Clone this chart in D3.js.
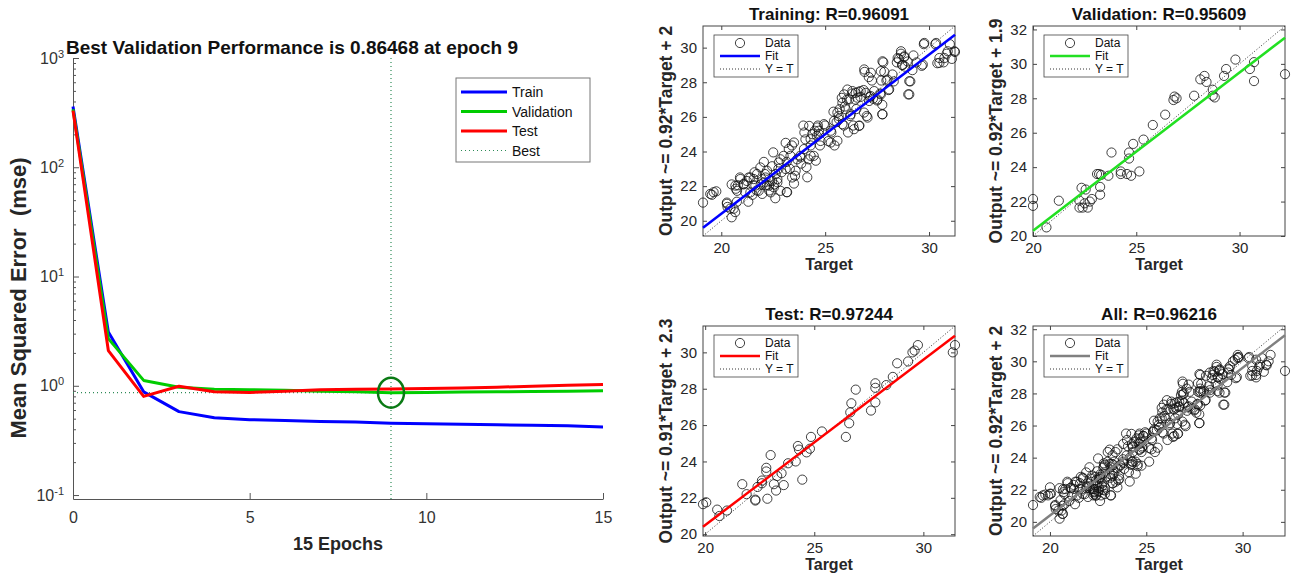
<!DOCTYPE html>
<html>
<head>
<meta charset="utf-8">
<script src="https://cdn.jsdelivr.net/npm/d3@7"></script>
<style>
  body { margin: 0; background: #fff; }
  svg { font-family: "Liberation Sans", Arial, Helvetica, sans-serif; }
</style>
</head>
<body>
<div id="chart"></div>
<script>
// ---- performance curve data ----
var epochs    = [0, 1, 2, 3, 4, 5, 6, 7, 8, 9, 10, 11, 12, 13, 14, 15];
var trainPerf = [360, 3.1, 0.88, 0.58, 0.51, 0.49, 0.48, 0.47, 0.465, 0.455, 0.45, 0.445, 0.44, 0.435, 0.43, 0.42];
var valPerf   = [340, 2.7, 1.12, 0.97, 0.93, 0.92, 0.91, 0.89, 0.88, 0.86468, 0.87, 0.875, 0.88, 0.885, 0.89, 0.9];
var testPerf  = [330, 2.1, 0.80, 0.99, 0.88, 0.87, 0.89, 0.92, 0.93, 0.935, 0.945, 0.955, 0.97, 0.99, 1.01, 1.03];
var bestEpoch = 9;
var bestPerf = 0.86468;
var perfExponents = [-1, 0, 1, 2, 3];
var perfXTicks = [0, 5, 10, 15];
var perfNames = ["Train", "Validation", "Test", "Best"];

// ---- regression data: [target, output] ----
var trainPts = [
  [19.12,21.05],[19.55,21.5],[19.76,21.7],[20.27,21.05],[20.43,20.7],[20.5,20.2],[20.67,20.5],[20.3,20.8],[20.75,21.1],
  [20.5,22.1],[20.7,21.85],[20.8,22.05],[20.9,22.5],[21.15,21.65],[21.07,22.1],[21.23,22.3],[21.3,21.1],[21.4,22.5],
  [21.55,22.05],[21.6,22.8],[21.5,21.5],[21.7,21.75],[21.9,22.1],[21.95,22.4],[22.05,23.4],[22.1,22.7],[22.2,22.05],
  [22.3,21.75],[22.35,22.3],[22.45,23.15],[22.5,23.95],[22.55,22.1],[22.6,21.3],[22.7,22.4],[22.75,23.0],[22.85,23.55],
  [22.9,22.8],[23.0,23.75],[23.1,24.5],[23.15,23.4],[23.25,24.15],[23.15,21.65],[23.3,23.0],[23.4,24.35],[23.5,22.15],
  [23.55,22.6],[23.65,23.55],[23.8,23.75],[23.85,23.3],[23.95,25.5],[24.0,25.1],[24.05,24.7],[24.1,23.1],[24.2,23.55],
  [24.3,24.35],[24.45,23.75],[24.5,25.2],[24.6,24.9],[24.65,25.5],[24.75,24.35],[25.0,25.5],[25.15,24.6],[25.3,25.1],
  [25.4,26.3],[25.45,24.35],[25.55,25.7],[25.65,26.05],[25.7,26.45],[25.8,27.1],[25.9,25.5],[25.95,26.6],[26.05,27.0],
  [26.1,25.1],[26.2,26.05],[26.3,27.35],[26.35,25.5],[26.45,27.0],[26.5,26.45],[26.6,27.45],[26.65,25.5],[26.7,27.15],
  [26.85,27.55],[26.9,28.6],[27.0,26.05],[27.1,28.3],[27.15,27.15],[27.25,28.1],[27.3,27.05],[27.5,26.95],[27.65,27.35],
  [27.7,28.1],[27.8,29.15],[27.85,28.6],[27.75,26.15],[27.75,26.7],[27.95,28.1],[28.05,27.55],[28.3,28.05],[28.45,29.15],
  [28.55,29.35],[28.65,29.65],[28.7,29.0],[28.8,29.45],[28.85,28.9],[29.0,27.3],[29.1,28.05],[29.2,28.7],[29.25,29.55],
  [29.4,29.15],[29.65,28.95],[29.75,30.2],[30.3,30.2],[30.4,29.1],[30.5,29.4],[30.7,29.15],[30.85,29.65],[31.0,30.2],
  [31.1,29.35],[31.25,29.75],
  [19.63,21.65],[19.47,21.55],[20.27,20.98],[20.6,20.7],[20.68,22.03],[20.76,21.73],[21.08,22.13],[20.92,22.41],
  [21.32,22.5],[21.4,21.64],[21.56,22.41],[21.64,22.03],[21.72,22.7],[21.8,21.73],[21.88,23.08],[21.97,21.55],
  [22.05,22.22],[22.13,22.5],[22.2,22.89],[22.3,22.03],[22.38,21.64],[22.45,22.3],[22.53,21.93],[22.62,22.7],
  [22.7,22.22],[22.77,23.37],[22.85,21.73],[23.1,22.99],[23.17,21.65],[23.33,23.75],[23.41,22.5],[23.5,24.52],
  [23.58,22.89],[23.82,23.66],[23.98,24.14],[24.14,22.51],[24.3,23.75],[24.55,23.47],[24.78,24.61],[24.7,25.2],
  [24.23,25.48],
  [29.77,30.27],[30.34,30.27],[30.9,29.79],[31.22,29.79],[30.5,29.12],[30.74,29.4],[28.65,29.79],[28.81,29.5],
  [28.49,29.4],[28.97,29.2],[28.73,29.0],[27.76,29.21],[27.68,28.64],[27.2,28.55],[26.88,28.74],[28.0,28.16],
  [28.24,28.45],[29.05,28.06],[29.7,29.02],[29.05,27.3],[28.08,27.59],[27.68,27.3],[27.76,26.15],[27.52,27.01],
  [27.2,27.2],[26.96,27.39],[26.71,27.49],[26.47,27.39],[26.31,27.49],[26.07,27.58],[25.91,27.3],[26.15,27.01],
  [25.83,26.82],[26.55,27.11],[27.36,27.49],[27.12,26.92],[26.87,26.25],[26.23,26.15],[25.99,26.44],[25.59,26.25],
  [25.67,25.86],[25.43,25.77],[25.83,25.58],[26.39,25.29],[26.63,25.48],[27.04,25.96],[25.27,25.2],[24.94,25.58],
  [24.7,25.0],[24.38,25.0],[25.27,24.52],[25.59,24.62],[24.3,24.71],[24.62,25.39]
];
var valPts = [
  [20.0,22.15],[20.0,21.75],[20.65,20.5],[21.25,22.05],[22.25,22.05],[22.35,22.8],[22.25,21.65],[22.4,21.65],
  [22.5,21.9],[22.55,22.7],[22.65,21.65],[22.75,22.0],[22.85,22.15],[23.1,23.6],[23.2,23.6],[23.25,22.4],
  [23.25,22.85],[23.3,23.55],[23.65,23.5],[23.8,24.85],[24.25,23.75],[24.25,23.6],[24.55,23.6],[24.65,24.5],
  [24.65,24.85],[24.75,23.5],[24.85,25.35],[25.15,23.75],[25.35,25.6],[25.8,26.45],[26.4,27.05],[26.8,27.9],
  [26.85,28.1],[26.95,28.0],[27.8,28.15],[28.1,29.1],[28.3,29.3],[28.4,28.95],[28.7,28.5],[28.7,28.15],
  [28.8,28.05],[29.25,29.3],[29.35,29.7],[29.8,30.25],[30.5,29.7],[30.7,30.1],[30.7,29.0],[32.2,29.4]
];
var testPts = [
  [19.9,21.65],[20.05,21.75],[20.55,21.35],[20.65,21.0],[21.0,21.3],[21.7,22.75],[21.9,22.2],[22.3,21.9],
  [22.3,21.85],[22.4,22.6],[22.6,22.95],[22.6,22.8],[22.8,23.65],[22.8,23.45],[22.85,21.95],[23.0,24.35],
  [23.15,22.75],[23.25,22.4],[23.3,23.2],[23.5,23.35],[23.6,22.7],[23.8,23.9],[24.15,24.0],[24.25,24.85],
  [24.3,24.65],[24.45,23.0],[24.65,24.5],[24.8,24.7],[24.85,25.35],[25.35,25.65],[26.45,25.35],[26.6,26.1],
  [26.65,26.7],[26.7,27.2],[26.9,27.95],[27.6,26.8],[27.8,27.25],[27.8,28.05],[27.8,28.3],[28.3,28.2],
  [28.6,28.65],[28.8,29.4],[29.3,29.5],[29.5,30.0],[29.6,30.1],[29.75,30.4],[31.35,30.0],[31.45,30.4]
];
var regTitles = ["Training", "Validation", "Test", "All"];
var regR = ["0.96091", "0.95609", "0.97244", "0.96216"];
var regSlope = [0.92, 0.92, 0.91, 0.92];
var regIntercept = [2, 1.9, 2.3, 2];
var regYTicks = [20, 22, 24, 26, 28, 30, 32];
var regXTicks = [20, 25, 30];
var regLegend = ["Data", "Fit", "Y = T"];

var W = 1295, H = 576;
var textColor = "#262626";
var axisColor = "#555";

var svg = d3.select("#chart").append("svg")
    .attr("width", W)
    .attr("height", H);

// ================= performance plot =================
var perfColors = ["#0000ff", "#00cc00", "#ff0000"];
var perfBestColor = "#2e8b57";
var pLeft = 73, pTop = 58, pWidth = 530, pBottom = 499;

var x = d3.scaleLinear().domain([0, 15]).range([pLeft, pLeft + pWidth]);
var y = d3.scaleLog().domain([0.092, 1000]).range([pBottom, pTop]);

var minorTicks = [];
perfExponents.forEach(function(e) {
  [2, 3, 4, 5, 6, 7, 8, 9].forEach(function(m) {
    var v = m * Math.pow(10, e);
    if (v < 1000) minorTicks.push(v);
  });
});

svg.append("g")
    .attr("transform", "translate(" + pLeft + ",0)")
    .call(d3.axisLeft(y).tickValues(minorTicks).tickSize(-3).tickFormat(""))
    .call(function(g) { g.select(".domain").remove(); g.selectAll("line").attr("stroke", axisColor); });

var yAxisG = svg.append("g")
    .attr("transform", "translate(" + pLeft + ",0)")
    .call(d3.axisLeft(y)
      .tickValues(perfExponents.map(function(e) { return Math.pow(10, e); }))
      .tickSizeInner(-6).tickSizeOuter(0).tickPadding(9));
yAxisG.attr("font-family", null).attr("font-size", 16);
yAxisG.select(".domain").attr("stroke", axisColor);
yAxisG.selectAll("line").attr("stroke", axisColor);
yAxisG.selectAll("text")
    .attr("fill", "#333")
    .each(function(d) {
      var t = d3.select(this);
      t.text("10");
      t.append("tspan")
        .attr("dy", "-0.55em")
        .attr("font-size", 11)
        .text(Math.round(Math.log10(d)));
    });

var xAxisG = svg.append("g")
    .attr("transform", "translate(0," + pBottom + ")")
    .call(d3.axisBottom(x).tickValues(perfXTicks).tickSizeInner(-6).tickSizeOuter(0).tickPadding(13));
xAxisG.attr("font-family", null).attr("font-size", 16);
xAxisG.select(".domain").attr("stroke", axisColor);
xAxisG.selectAll("line").attr("stroke", axisColor);
xAxisG.selectAll("text").attr("fill", "#333");

// best markers
svg.append("line")
    .attr("x1", x(bestEpoch)).attr("x2", x(bestEpoch))
    .attr("y1", pTop).attr("y2", pBottom)
    .attr("stroke", perfBestColor).attr("stroke-width", 1.2)
    .attr("stroke-dasharray", "1,3");
svg.append("line")
    .attr("x1", x(0)).attr("x2", x(bestEpoch))
    .attr("y1", y(bestPerf)).attr("y2", y(bestPerf))
    .attr("stroke", perfBestColor).attr("stroke-width", 1.2)
    .attr("stroke-dasharray", "1,3");

var perfLine = d3.line()
    .x(function(d, i) { return x(epochs[i]); })
    .y(function(d) { return y(d); });

[trainPerf, valPerf, testPerf].forEach(function(series, i) {
  svg.append("path")
      .datum(series)
      .attr("d", perfLine)
      .attr("fill", "none")
      .attr("stroke", perfColors[i])
      .attr("stroke-width", 3)
      .attr("stroke-linejoin", "round");
});

svg.append("ellipse")
    .attr("cx", x(bestEpoch)).attr("cy", y(bestPerf))
    .attr("rx", 13).attr("ry", 15)
    .attr("fill", "none")
    .attr("stroke", "#0a7a14")
    .attr("stroke-width", 2.5);

// title and labels
svg.append("text")
    .attr("x", 292).attr("y", 54)
    .attr("text-anchor", "middle")
    .attr("font-size", 19).attr("font-weight", "bold")
    .attr("fill", "#111")
    .text("Best Validation Performance is " + bestPerf + " at epoch " + bestEpoch);

svg.append("text")
    .attr("transform", "translate(26,298) rotate(-90)")
    .attr("text-anchor", "middle")
    .attr("font-size", 22).attr("font-weight", "bold")
    .attr("fill", textColor)
    .attr("xml:space", "preserve")
    .text("Mean Squared Error  (mse)");

svg.append("text")
    .attr("x", x(7.5)).attr("y", 550)
    .attr("text-anchor", "middle")
    .attr("font-size", 18).attr("font-weight", "bold")
    .attr("fill", textColor)
    .text((epochs.length - 1) + " Epochs");

// legend
var leg = svg.append("g").attr("transform", "translate(456,78)");
leg.append("rect")
    .attr("width", 134).attr("height", 84)
    .attr("fill", "#fff").attr("stroke", "#777").attr("stroke-width", 1);
perfNames.forEach(function(name, i) {
  var ly = 14 + i * 19.5;
  leg.append("line")
      .attr("x1", 5).attr("x2", 51)
      .attr("y1", ly).attr("y2", ly)
      .attr("stroke", i < 3 ? perfColors[i] : perfBestColor)
      .attr("stroke-width", i < 3 ? 3 : 1.2)
      .attr("stroke-dasharray", i < 3 ? null : "1,3");
  leg.append("text")
      .attr("x", 56).attr("y", ly + 5)
      .attr("font-size", 14)
      .attr("fill", "#111")
      .text(name);
});

// ================= regression plots =================
var regColors = ["#0000ff", "#22e022", "#ff0000", "#808080"];
var regSets = [trainPts, valPts, testPts, trainPts.concat(valPts, testPts)];
var panelPos = [[703, 26], [1033, 26], [703, 326], [1033, 326]];
var panelW = 252, panelH = 210;

regSets.forEach(function(pts, k) {
  var g = svg.append("g")
      .attr("transform", "translate(" + panelPos[k][0] + "," + panelPos[k][1] + ")");

  var ext = d3.extent(pts.reduce(function(a, p) { return a.concat(p); }, []));
  var sx = d3.scaleLinear().domain(ext).range([0, panelW]);
  var sy = d3.scaleLinear().domain(ext).range([panelH, 0]);

  var yt = regYTicks.filter(function(v) { return v >= ext[0] && v <= ext[1]; });
  var xt = regXTicks.filter(function(v) { return v >= ext[0] && v <= ext[1]; });

  function style(a, fs) {
    a.attr("font-family", null).attr("font-size", fs);
    a.select(".domain").remove();
    a.selectAll("line").attr("stroke", "#444");
    a.selectAll("text").attr("fill", textColor);
  }

  g.append("g").call(d3.axisLeft(sy).tickValues(yt).tickSizeInner(-4).tickSizeOuter(0).tickPadding(6))
      .call(style, 15);
  g.append("g").attr("transform", "translate(" + panelW + ",0)")
      .call(d3.axisRight(sy).tickValues(yt).tickSizeInner(-4).tickSizeOuter(0).tickFormat(""))
      .call(style, 15);
  g.append("g").attr("transform", "translate(0," + panelH + ")")
      .call(d3.axisBottom(sx).tickValues(xt).tickSizeInner(-4).tickSizeOuter(0).tickPadding(6))
      .call(style, 15);
  g.append("g")
      .call(d3.axisTop(sx).tickValues(xt).tickSizeInner(-4).tickSizeOuter(0).tickFormat(""))
      .call(style, 15);

  g.append("rect")
      .attr("width", panelW).attr("height", panelH)
      .attr("fill", "none").attr("stroke", "#444").attr("stroke-width", 1);

  // Y = T
  g.append("line")
      .attr("x1", sx(ext[0])).attr("y1", sy(ext[0]))
      .attr("x2", sx(ext[1])).attr("y2", sy(ext[1]))
      .attr("stroke", "#333").attr("stroke-width", 1)
      .attr("stroke-dasharray", "1,2");

  // data circles
  g.append("g").selectAll("circle")
      .data(pts)
      .enter()
      .append("circle")
        .attr("cx", function(d) { return sx(d[0]); })
        .attr("cy", function(d) { return sy(d[1]); })
        .attr("r", 4.6)
        .attr("fill", "none")
        .attr("stroke", "#111")
        .attr("stroke-width", 0.8);

  // fit line
  g.append("line")
      .attr("x1", sx(ext[0])).attr("y1", sy(regSlope[k] * ext[0] + regIntercept[k]))
      .attr("x2", sx(ext[1])).attr("y2", sy(regSlope[k] * ext[1] + regIntercept[k]))
      .attr("stroke", regColors[k]).attr("stroke-width", 2.5);

  // legend
  var lg = g.append("g").attr("transform", "translate(11,9)");
  lg.append("rect")
      .attr("width", 84).attr("height", 42)
      .attr("fill", "#fff").attr("stroke", "#444").attr("stroke-width", 0.8);
  lg.append("circle")
      .attr("cx", 26).attr("cy", 8).attr("r", 4.6)
      .attr("fill", "none").attr("stroke", "#111").attr("stroke-width", 0.8);
  lg.append("line")
      .attr("x1", 6).attr("x2", 46).attr("y1", 21).attr("y2", 21)
      .attr("stroke", regColors[k]).attr("stroke-width", 2.5);
  lg.append("line")
      .attr("x1", 6).attr("x2", 46).attr("y1", 34).attr("y2", 34)
      .attr("stroke", "#333").attr("stroke-width", 1).attr("stroke-dasharray", "1,2");
  regLegend.forEach(function(name, i) {
    lg.append("text")
        .attr("x", 51).attr("y", 12 + i * 13)
        .attr("font-size", 12)
        .attr("fill", "#111")
        .text(name);
  });

  // title and labels
  g.append("text")
      .attr("x", panelW / 2).attr("y", -6)
      .attr("text-anchor", "middle")
      .attr("font-size", 17).attr("font-weight", "bold")
      .attr("fill", "#111")
      .text(regTitles[k] + ": R=" + regR[k]);

  g.append("text")
      .attr("transform", "translate(-31," + (panelH / 2) + ") rotate(-90)")
      .attr("text-anchor", "middle")
      .attr("font-size", 17.5).attr("font-weight", "bold")
      .attr("fill", textColor)
      .text("Output ~= " + regSlope[k] + "*Target + " + regIntercept[k]);

  g.append("text")
      .attr("x", panelW / 2).attr("y", panelH + 34)
      .attr("text-anchor", "middle")
      .attr("font-size", 16).attr("font-weight", "bold")
      .attr("fill", textColor)
      .text("Target");
});
</script>
</body>
</html>
